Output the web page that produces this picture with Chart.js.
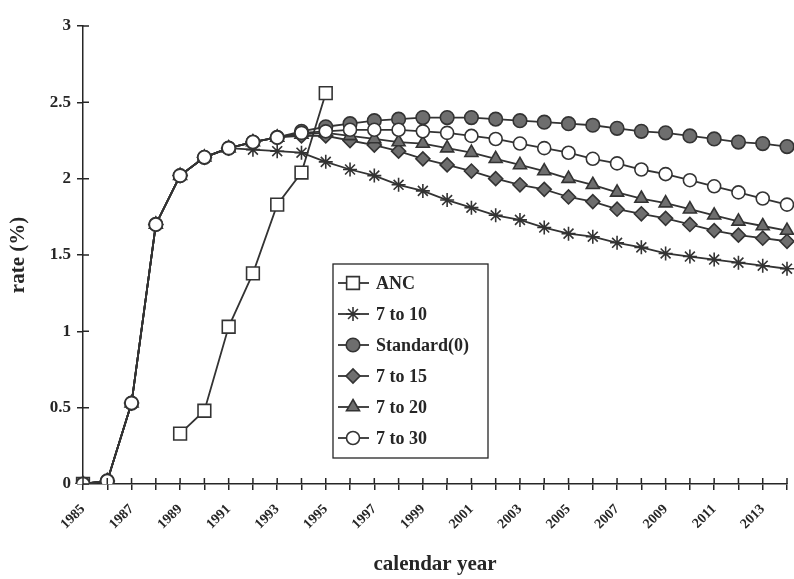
<!DOCTYPE html>
<html>
<head>
<meta charset="utf-8">
<script src="https://cdn.jsdelivr.net/npm/chart.js@4.4.1/dist/chart.umd.min.js"></script>
<style>
  body { margin: 0; background: #fff; }
  #wrap { width: 794px; height: 579px; }
</style>
</head>
<body>
<div id="wrap"><canvas id="rate-chart" width="794" height="579"></canvas></div>
<script>
const years = ['1985','1986','1987','1988','1989','1990','1991','1992','1993','1994',
  '1995','1996','1997','1998','1999','2000','2001','2002','2003','2004',
  '2005','2006','2007','2008','2009','2010','2011','2012','2013','2014'];

const anc = [0, null, null, null, 0.33, 0.48, 1.03, 1.38, 1.83, 2.04, 2.56,
  null, null, null, null, null, null, null, null, null,
  null, null, null, null, null, null, null, null, null, null];
const to10 = [0, 0.02, 0.53, 1.70, 2.02, 2.14, 2.20, 2.19, 2.18, 2.17,
  2.11, 2.06, 2.02, 1.96, 1.92, 1.86, 1.81, 1.76, 1.73, 1.68,
  1.64, 1.62, 1.58, 1.55, 1.51, 1.49, 1.47, 1.45, 1.43, 1.41];
const standard = [0, 0.02, 0.53, 1.70, 2.02, 2.14, 2.20, 2.24, 2.27, 2.31,
  2.34, 2.36, 2.38, 2.39, 2.40, 2.40, 2.40, 2.39, 2.38, 2.37,
  2.36, 2.35, 2.33, 2.31, 2.30, 2.28, 2.26, 2.24, 2.23, 2.21];
const to15 = [0, 0.02, 0.53, 1.70, 2.02, 2.14, 2.20, 2.24, 2.27, 2.28,
  2.28, 2.25, 2.22, 2.18, 2.13, 2.09, 2.05, 2.00, 1.96, 1.93,
  1.88, 1.85, 1.80, 1.77, 1.74, 1.70, 1.66, 1.63, 1.61, 1.59];
const to20 = [0, 0.02, 0.53, 1.70, 2.02, 2.14, 2.20, 2.24, 2.27, 2.29,
  2.30, 2.28, 2.26, 2.24, 2.23, 2.20, 2.17, 2.13, 2.09, 2.05,
  2.00, 1.96, 1.91, 1.87, 1.84, 1.80, 1.76, 1.72, 1.69, 1.66];
const to30 = [0, 0.02, 0.53, 1.70, 2.02, 2.14, 2.20, 2.24, 2.27, 2.30,
  2.31, 2.32, 2.32, 2.32, 2.31, 2.30, 2.28, 2.26, 2.23, 2.20,
  2.17, 2.13, 2.10, 2.06, 2.03, 1.99, 1.95, 1.91, 1.87, 1.83];

const yTicks = [0, 0.5, 1, 1.5, 2, 2.5, 3];

const FONT = '"Liberation Serif", "Times New Roman", serif';
const INK = '#262626';
const GREY = '#6e6e6e';

function series(label, data, style, fill, radius, order) {
  return {
    label, data, order,
    borderColor: '#333',
    borderWidth: 1.8,
    pointStyle: style,
    pointRadius: radius,
    pointBackgroundColor: fill,
    pointBorderColor: '#333',
    pointBorderWidth: 1.6,
    spanGaps: false,
    tension: 0
  };
}

const datasets = [
  series('ANC', anc, 'rect', '#fff', 9, 6),
  series('7 to 10', to10, 'star', '#fff', 7, 5),
  series('Standard(0)', standard, 'circle', GREY, 6.8, 4),
  series('7 to 15', to15, 'rectRot', GREY, 7, 3),
  series('7 to 20', to20, 'triangle', GREY, 7.5, 2),
  series('7 to 30', to30, 'circle', '#fff', 6.5, 1)
];

// small tick marks on the inner side of both axes (the original ticks cross the axis)
const innerTicks = {
  id: 'innerTicks',
  afterDatasetsDraw(chart) {
    const { ctx, chartArea, scales } = chart;
    ctx.save();
    ctx.strokeStyle = INK;
    ctx.lineWidth = 1.5;
    ctx.beginPath();
    scales.x.ticks.forEach((t, i) => {
      const x = scales.x.getPixelForTick(i);
      ctx.moveTo(x, chartArea.bottom);
      ctx.lineTo(x, chartArea.bottom - 6);
    });
    scales.y.ticks.forEach((t, i) => {
      const y = scales.y.getPixelForTick(i);
      ctx.moveTo(chartArea.left, y);
      ctx.lineTo(chartArea.left + 6, y);
    });
    ctx.stroke();
    ctx.restore();
  }
};

// boxed legend inside the plot, like the original
const boxLegend = {
  id: 'boxLegend',
  afterDraw(chart) {
    const ctx = chart.ctx;
    const box = { x: 333, y: 264, w: 155, h: 194 };
    ctx.save();
    ctx.fillStyle = '#fff';
    ctx.fillRect(box.x, box.y, box.w, box.h);
    ctx.strokeStyle = INK;
    ctx.lineWidth = 1.3;
    ctx.strokeRect(box.x, box.y, box.w, box.h);
    chart.data.datasets.forEach((ds, i) => {
      const y = 283 + i * 31;
      ctx.strokeStyle = ds.borderColor;
      ctx.lineWidth = ds.borderWidth;
      ctx.beginPath();
      ctx.moveTo(338, y);
      ctx.lineTo(369, y);
      ctx.stroke();
      ctx.fillStyle = ds.pointBackgroundColor;
      ctx.strokeStyle = ds.pointBorderColor;
      ctx.lineWidth = ds.pointBorderWidth;
      Chart.helpers.drawPoint(ctx, {
        pointStyle: ds.pointStyle,
        radius: ds.pointRadius,
        borderWidth: ds.pointBorderWidth,
        rotation: 0
      }, 353, y);
      ctx.fillStyle = INK;
      ctx.font = 'bold 18px ' + FONT;
      ctx.textBaseline = 'middle';
      ctx.textAlign = 'left';
      ctx.fillText(ds.label, 376, y + 1);
    });
    ctx.restore();
  }
};

new Chart(document.getElementById('rate-chart'), {
  type: 'line',
  data: { labels: years, datasets },
  plugins: [innerTicks, boxLegend],
  options: {
    responsive: false,
    animation: false,
    layout: { autoPadding: false, padding: { top: 26, right: 7, left: 6, bottom: 0 } },
    plugins: {
      legend: { display: false },
      tooltip: { enabled: false }
    },
    scales: {
      x: {
        type: 'category',
        offset: false,
        afterFit: s => { s.height = 95; s.paddingLeft = 0; s.paddingRight = 0; },
        grid: { drawOnChartArea: false, drawTicks: true, tickLength: 6, color: INK, lineWidth: 1.5 },
        border: { display: true, color: INK, width: 1.5 },
        ticks: {
          autoSkip: false,
          minRotation: 45,
          maxRotation: 45,
          padding: 11,
          color: INK,
          font: { family: FONT, size: 14, weight: 'bold' },
          callback: (v, i) => (i % 2 === 0 ? years[i] : '')
        },
        title: {
          display: true,
          text: 'calendar year',
          color: INK,
          padding: { top: 0, bottom: 2 },
          font: { family: FONT, size: 21, weight: 'bold' }
        }
      },
      y: {
        min: 0,
        max: 3,
        afterFit: s => { s.width = 77; },
        afterBuildTicks: s => { s.ticks = yTicks.map(v => ({ value: v })); },
        grid: { drawOnChartArea: false, drawTicks: true, tickLength: 6, color: INK, lineWidth: 1.5 },
        border: { display: true, color: INK, width: 1.5 },
        ticks: {
          padding: 6,
          color: INK,
          font: { family: FONT, size: 17, weight: 'bold' },
          callback: v => String(v)
        },
        title: {
          display: true,
          text: 'rate (%)',
          color: INK,
          padding: { top: 0, bottom: 0 },
          font: { family: FONT, size: 21, weight: 'bold' }
        }
      }
    }
  }
});
</script>
</body>
</html>
